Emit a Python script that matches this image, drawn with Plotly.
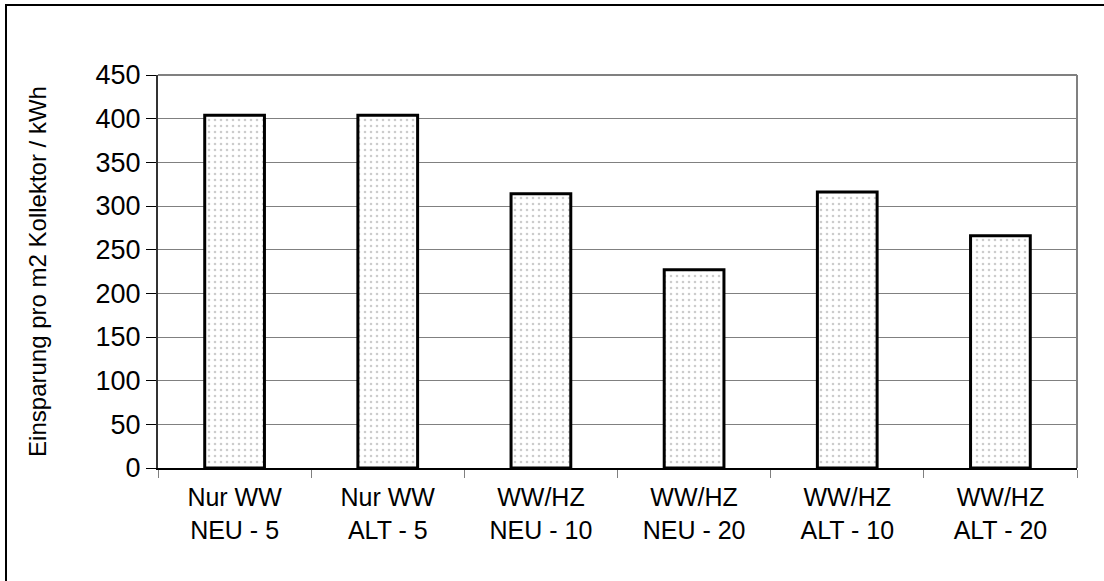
import plotly.graph_objects as go

categories = ["Nur WW<br>NEU - 5", "Nur WW<br>ALT - 5", "WW/HZ<br>NEU - 10",
              "WW/HZ<br>NEU - 20", "WW/HZ<br>ALT - 10", "WW/HZ<br>ALT - 20"]
savings = [404, 404, 314, 227, 316, 266]
y_ticks = [0, 50, 100, 150, 200, 250, 300, 350, 400, 450]

FONT = "Liberation Sans, Arial, sans-serif"

fig = go.Figure(
    go.Bar(
        x=categories,
        y=savings,
        width=0.39,
        marker=dict(
            color="white",
            line=dict(color="black", width=3),
            pattern=dict(shape=".", fgcolor="#9a9a9a", bgcolor="white",
                         size=6, solidity=0.15),
        ),
    )
)

fig.update_layout(
    width=1104,
    height=581,
    margin=dict(l=158, r=27, t=75, b=113),
    paper_bgcolor="white",
    plot_bgcolor="white",
    showlegend=False,
    font=dict(family=FONT, color="black"),
    shapes=[
        # frame of the plotting area (top and right edges)
        dict(type="line", xref="paper", yref="paper", x0=0, x1=1, y0=1, y1=1,
             line=dict(color="#808080", width=2), layer="above"),
        dict(type="line", xref="paper", yref="paper", x0=1, x1=1, y0=0, y1=1,
             line=dict(color="#808080", width=2), layer="above"),
        # outer chart border
        dict(type="rect", xref="paper", yref="paper",
             x0=-152 / 919, x1=1.2, y0=1 + 70 / 393, y1=-0.5,
             line=dict(color="black", width=2), layer="above"),
    ],
)

fig.update_xaxes(
    type="category",
    showline=True, linecolor="black", linewidth=2,
    ticks="outside", tickson="boundaries", ticklen=8, tickcolor="#808080", tickwidth=1,
    tickfont=dict(size=25, family=FONT, color="black"),
    ticklabelstandoff=6,
    showgrid=False,
)

fig.update_yaxes(
    range=[0, 450],
    tickvals=y_ticks,
    showline=True, linecolor="#333333", linewidth=2,
    ticks="outside", ticklen=10, tickcolor="black", tickwidth=1,
    tickfont=dict(size=27, family=FONT, color="black"),
    showgrid=True, gridcolor="#808080", gridwidth=1,
    zeroline=False,
    title=dict(text="Einsparung pro m2 Kollektor / kWh",
               font=dict(size=24, family=FONT, color="black"), standoff=42),
)

fig.write_html("out.html")
